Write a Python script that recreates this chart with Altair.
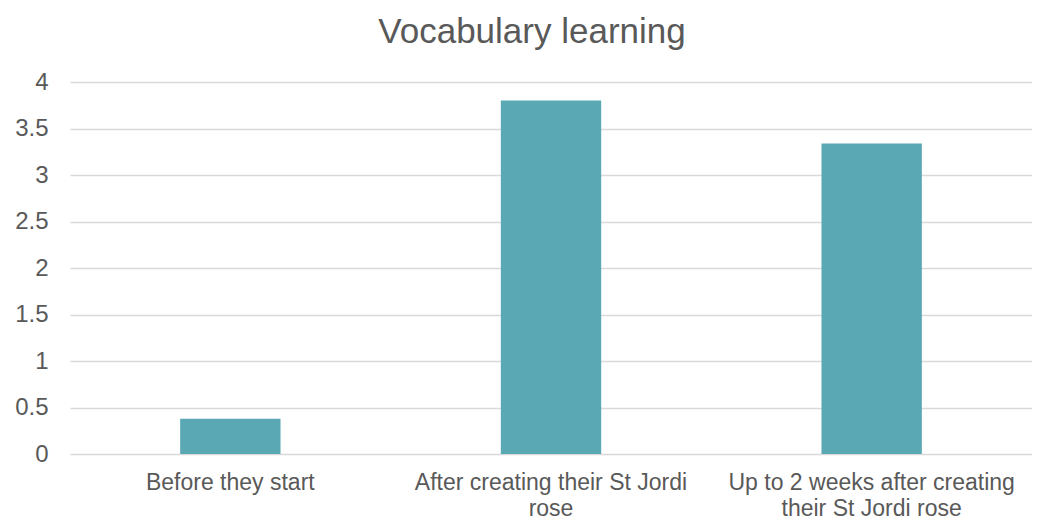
import altair as alt
import pandas as pd

categories = [
    "Before they start",
    "After creating their St Jordi|rose",
    "Up to 2 weeks after creating|their St Jordi rose",
]
values = [0.38, 3.80, 3.34]
y_ticks = [0, 0.5, 1, 1.5, 2, 2.5, 3, 3.5, 4]

df = pd.DataFrame({"category": categories, "value": values})

FONT = "Liberation Sans"
TXT = "#595959"

chart = (
    alt.Chart(df)
    .mark_bar(color="#5BA8B5")
    .encode(
        x=alt.X(
            "category:N",
            sort=categories,
            scale=alt.Scale(paddingInner=0.687, paddingOuter=0.3435),
            axis=alt.Axis(
                title=None,
                labelAngle=0,
                labelExpr="split(datum.label, '|')",
                labelFont=FONT,
                labelFontSize=23,
                labelColor=TXT,
                labelLineHeight=26,
                labelPadding=17,
                labelLimit=0,
                labelOverlap=False,
                ticks=False,
                domain=False,
                grid=False,
            ),
        ),
        y=alt.Y(
            "value:Q",
            scale=alt.Scale(domain=[0, 4], nice=False),
            axis=alt.Axis(
                title=None,
                values=y_ticks,
                format=".1~f",
                labelFont=FONT,
                labelFontSize=24,
                labelColor=TXT,
                labelPadding=22,
                ticks=False,
                domain=False,
                grid=True,
                gridColor="#D9D9D9",
                gridWidth=1.3,
            ),
        ),
    )
    .properties(
        width=962,
        height=372,
        title=alt.TitleParams(
            text="Vocabulary learning",
            font=FONT,
            fontSize=35,
            fontWeight="normal",
            color=TXT,
            anchor="middle",
            dx=-19,
            offset=20,
        ),
        autosize=alt.AutoSizeParams(type="none"),
        padding={"left": 62, "top": 74, "right": 0, "bottom": 66},
    )
    .configure_view(stroke=None)
)

chart.save("out.html", embed_options={"renderer": "svg", "actions": False})
